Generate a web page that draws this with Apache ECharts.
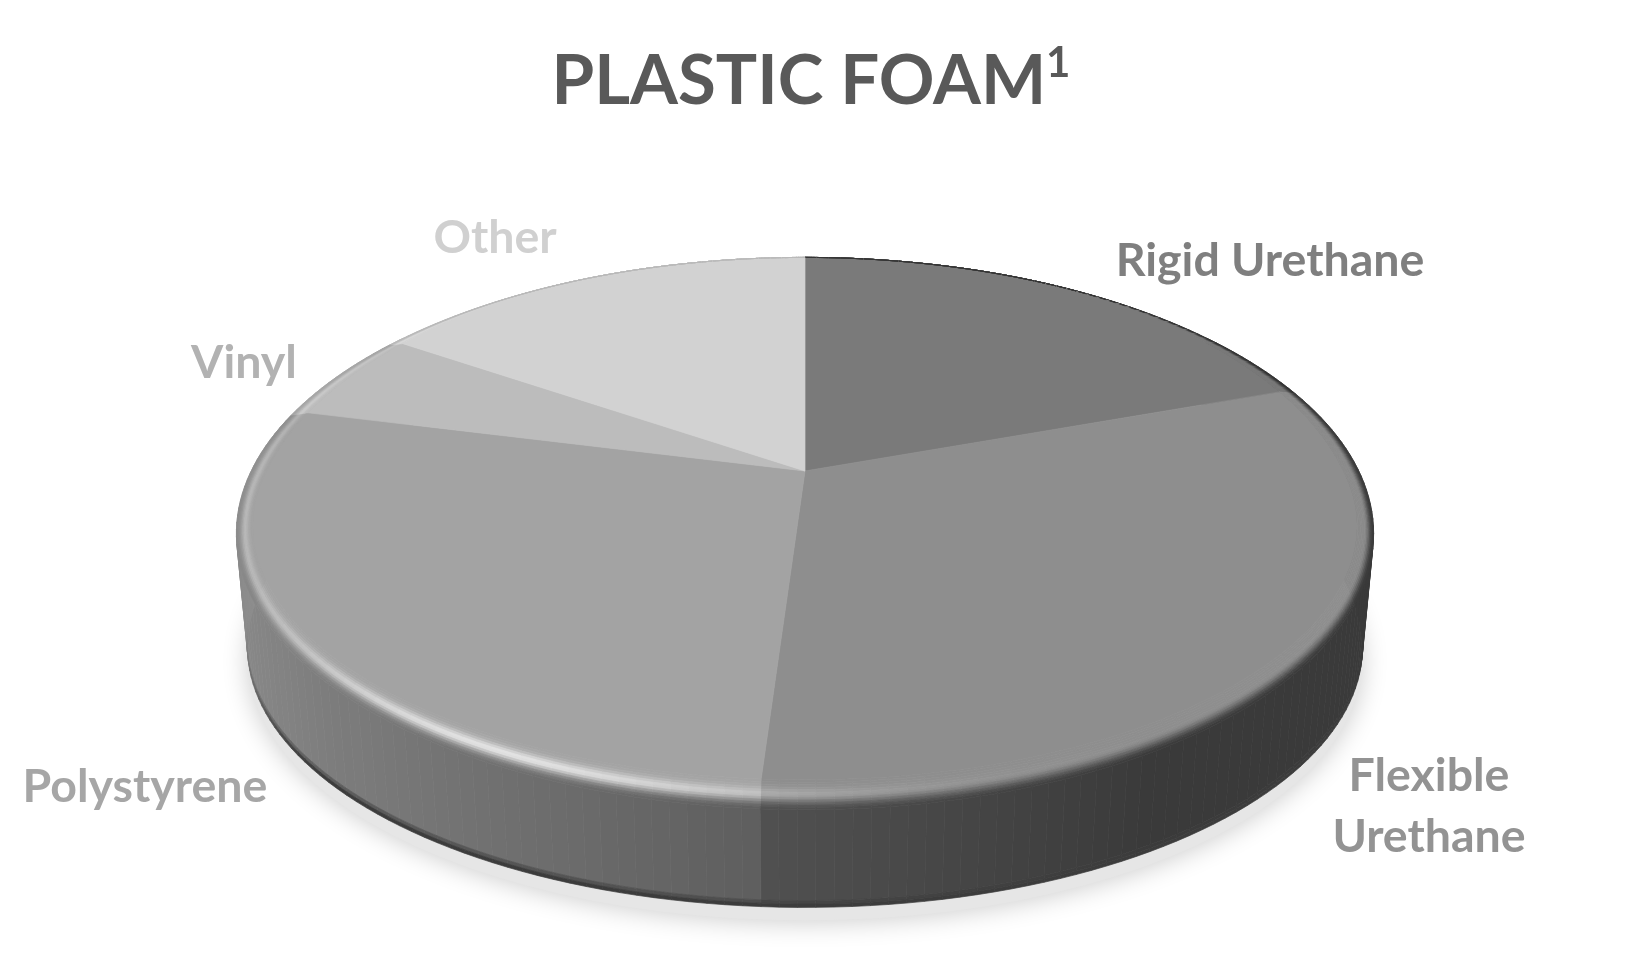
<!DOCTYPE html>
<html><head><meta charset="utf-8">
<style>html,body{margin:0;padding:0;background:#fff}#c{width:1647px;height:969px}</style>
<script src="https://cdn.jsdelivr.net/npm/echarts@6/dist/echarts.min.js"></script>
</head><body><div id="c"></div>
<script>
const categories = ['Rigid Urethane', 'Flexible\nUrethane', 'Polystyrene', 'Vinyl', 'Other'];
const values = [19.9, 31.1, 27.6, 5.5, 15.9];
const greys = [122, 142, 163, 188, 210];
const labelColors = ['#7f7f7f', '#939393', '#a6a6a6', '#b2b2b2', '#d0d0d0'];
const labelAnchors = [[1270, 261], [1429, 806], [145, 787], [244, 363], [495, 238]];

const topDisk = {cx: 805, y0: 471, a: 553.8, b: 262, k: 0.2267};
const baseDisk = {cx: 805, y0: 588, a: 543, b: 247, k: 0.2267};
const total = values.reduce((s, v) => s + v, 0);
const rad = d => d * Math.PI / 180;
const hex = g => { const c = Math.max(0, Math.min(255, Math.round(g))); return 'rgb(' + c + ',' + c + ',' + c + ')'; };
const mix = (a, b, t) => a + (b - a) * t;
const sm = (e0, e1, x) => { const t = Math.max(0, Math.min(1, (x - e0) / (e1 - e0))); return t * t * (3 - 2 * t); };
const lerp = (x, y, t) => [x[0] + (y[0] - x[0]) * t, x[1] + (y[1] - x[1]) * t];

function project(d, theta) {
  const u = Math.sin(rad(theta)), v = -Math.cos(rad(theta)), w = 1 - d.k * v;
  return [d.cx + d.a * u / w, d.y0 + d.b * v / w];
}
function sliceRange(i) {
  let s = 0;
  for (let j = 0; j < i; j++) s += values[j];
  return [s / total * 360, (s + values[i]) / total * 360];
}
function steps(a, b, n) {
  const out = [], c = Math.max(1, Math.ceil((b - a) / n));
  for (let i = 0; i <= c; i++) out.push(a + (b - a) * i / c);
  return out;
}
function wallFactor(t) {
  if (t <= 150) return 0.41;
  if (t <= 184) return mix(0.41, 0.57, (t - 150) / 34);
  if (t <= 200) return mix(0.58, 0.66, (t - 184) / 16);
  if (t <= 235) return mix(0.66, 0.80, (t - 200) / 35);
  if (t <= 270) return mix(0.80, 0.88, (t - 235) / 35);
  return 0.88;
}
function innerRim(theta) {
  const p = project(topDisk, theta);
  const u = Math.sin(rad(theta)), v = -Math.cos(rad(theta));
  const g = sm(0.4, 0.98, Math.abs(u) + Math.max(0, v));
  return [p[0] - 17 * u * g, p[1] - (30 * Math.max(0, v) + 3 * (1 - Math.abs(v))) * g];
}
function poly(points, g) {
  return {type: 'polygon', shape: {points}, style: {fill: hex(g), stroke: hex(g), lineWidth: 0.7}, silent: true};
}

function renderShadow() {
  const pts = steps(0, 360, 3).map(t => { const p = project(baseDisk, t); return [p[0], p[1] + 13]; });
  return {type: 'polygon', shape: {points: pts}, silent: true,
    style: {fill: '#e6e6e6', shadowBlur: 26, shadowColor: 'rgba(0,0,0,0.2)', shadowOffsetY: 2}};
}
function renderWall(params, api) {
  const i = params.dataIndex, r = sliceRange(i), base = greys[i], kids = [];
  const a = Math.max(r[0], 55), b = Math.min(r[1], 305);
  if (b <= a || api.value(0) <= 0) return {type: 'group', children: []};
  const ts = steps(a, b, 1.5);
  const levels = [[0, 0.93, 0], [0.93, 0.965, 0.5], [0.965, 1, 1]];
  for (let n = 0; n < ts.length - 1; n++) {
    const t0 = ts[n], t1 = ts[n + 1], tm = (t0 + t1) / 2, f = base * wallFactor(tm);
    const dark = sm(0.1, 0.7, -Math.cos(rad(tm)));
    const p0 = project(topDisk, t0), p1 = project(topDisk, t1), q0 = project(baseDisk, t0), q1 = project(baseDisk, t1);
    levels.forEach(l => {
      kids.push(poly([lerp(p0, q0, l[0]), lerp(p1, q1, l[0]), lerp(p1, q1, l[1]), lerp(p0, q0, l[1])], mix(f, 60, l[2] * dark)));
    });
  }
  return {type: 'group', children: kids};
}
function renderTop(params, api) {
  const i = params.dataIndex, r = sliceRange(i), base = greys[i], kids = [];
  const ts = steps(r[0], r[1], 1.5);
  const apex = [topDisk.cx, topDisk.y0];
  kids.push({type: 'polygon', shape: {points: [apex].concat(ts.map(innerRim))}, silent: true,
    style: {fill: hex(base), stroke: hex(base), lineWidth: 0.7}});
  const S = 12;
  for (let n = 0; n < ts.length - 1; n++) {
    const t0 = ts[n], t1 = ts[n + 1], tm = (t0 + t1) / 2;
    const in0 = innerRim(t0), in1 = innerRim(t1), o0 = project(topDisk, t0), o1 = project(topDisk, t1);
    const wall = base * wallFactor(tm);
    const spec = 62 * Math.exp(-Math.pow((tm - 205) / 25, 2)) + 22 * Math.exp(-Math.pow((tm - 262) / 40, 2));
    for (let j = 0; j < S; j++) {
      const s0 = j / S, s1 = (j + 1) / S, sc = (s0 + s1) / 2;
      const g = mix(base, wall, sm(0.45, 1, sc)) + spec * Math.exp(-Math.pow((sc - 0.5) / 0.22, 2));
      kids.push(poly([lerp(in0, o0, s0), lerp(in1, o1, s0), lerp(in1, o1, s1), lerp(in0, o0, s1)], g));
    }
  }
  kids.push({type: 'text', silent: true, x: labelAnchors[i][0], y: labelAnchors[i][1], z2: 100,
    style: {text: categories[i], fill: labelColors[i], font: 'bold 46.5px Lato', align: 'center', verticalAlign: 'middle', lineHeight: 61}});
  return {type: 'group', children: kids};
}

const chart = echarts.init(document.getElementById('c'));
chart.setOption({
  backgroundColor: '#fff',
  animation: false,
  title: {
    text: '{a|PLASTIC FOAM}{b|1}',
    left: 806, top: 37, textAlign: 'center',
    textStyle: {rich: {
      a: {fontFamily: 'Lato', fontWeight: 'bold', fontSize: 69, color: '#595959', lineHeight: 80},
      b: {fontFamily: 'Lato', fontWeight: 'bold', fontSize: 42, color: '#595959', lineHeight: 80, verticalAlign: 'top'}
    }}
  },
  series: [
    {type: 'custom', coordinateSystem: 'none', silent: true, z: 1, data: [total], renderItem: renderShadow},
    {type: 'custom', coordinateSystem: 'none', silent: true, z: 2, data: values.map(v => [v]), renderItem: renderWall},
    {type: 'custom', coordinateSystem: 'none', silent: true, z: 3, data: values.map(v => [v]), renderItem: renderTop}
  ]
});
</script></body></html>
